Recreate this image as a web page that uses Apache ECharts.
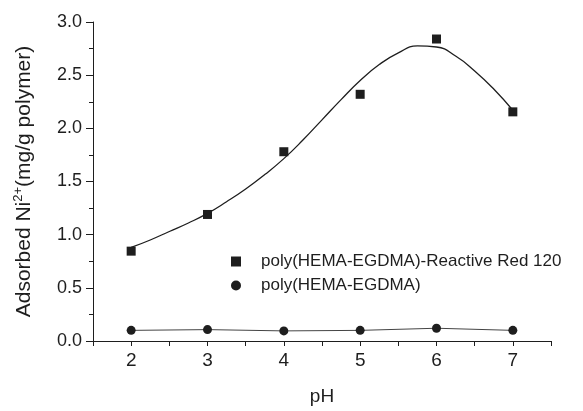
<!DOCTYPE html>
<html>
<head>
<meta charset="utf-8">
<script src="https://cdn.jsdelivr.net/npm/echarts@6/dist/echarts.min.js"></script>
<style>
  html, body { margin: 0; padding: 0; background: #fff; }
  #chart { width: 583px; height: 411px; }
</style>
</head>
<body>
<div id="chart"></div>
<script>
// measured points
const phValues = [2, 3, 4, 5, 6, 7];
const dyedValues = [0.845, 1.19, 1.78, 2.32, 2.84, 2.155];
const plainValues = [0.10, 0.107, 0.095, 0.10, 0.12, 0.10];

// fitted curve
const fitPh = [2, 2.25, 2.5, 2.75, 3, 3.25, 3.5, 3.75, 4, 4.25, 4.5, 4.75, 5, 5.25, 5.5, 5.75, 6, 6.25, 6.5, 6.75, 7];
const fitValues = [0.88, 0.95, 1.03, 1.11, 1.20, 1.31, 1.43, 1.565, 1.715, 1.89, 2.08, 2.27, 2.45, 2.60, 2.71, 2.775, 2.765, 2.68, 2.54, 2.37, 2.17];

const yTicks = [0, 0.5, 1, 1.5, 2, 2.5, 3];
const xTicks = [2, 3, 4, 5, 6, 7];

const dyedName = 'poly(HEMA-EGDMA)-Reactive Red 120';
const plainName = 'poly(HEMA-EGDMA)';

const ink = '#1e1e1e';
const font = '"Liberation Sans", Arial, sans-serif';

const chart = echarts.init(document.getElementById('chart'));

chart.setOption({
  animation: false,
  textStyle: { fontFamily: font, color: ink },
  grid: { left: 93, right: 32, top: 22, bottom: 67 },
  legend: {
    orient: 'vertical',
    left: 226,
    top: 248,
    itemWidth: 10,
    itemHeight: 10,
    itemGap: 7,
    textStyle: { fontFamily: font, fontSize: 17, color: ink, padding: [0, 0, 0, 15] },
    data: [
      { name: dyedName, icon: 'rect' },
      { name: plainName, icon: 'circle' }
    ]
  },
  xAxis: {
    type: 'value',
    min: 1.5,
    max: 7.5,
    interval: 0.5,
    name: 'pH',
    nameLocation: 'middle',
    nameGap: 46,
    nameTextStyle: { fontSize: 19, color: ink },
    axisLine: { onZero: false, lineStyle: { color: ink, width: 1 } },
    axisTick: { length: 5, lineStyle: { color: ink } },
    splitLine: { show: false },
    axisLabel: {
      fontSize: 19,
      color: ink,
      margin: 10,
      formatter: v => (xTicks.includes(v) ? String(v) : '')
    }
  },
  yAxis: {
    type: 'value',
    min: 0,
    max: 3,
    interval: 0.5,
    name: '{a|Adsorbed Ni}{s|2+}{a|(mg/g polymer)}',
    nameLocation: 'middle',
    nameGap: 57,
    nameTextStyle: {
      rich: {
        a: { fontSize: 21, color: ink, fontFamily: font },
        s: { fontSize: 13, color: ink, fontFamily: font, verticalAlign: 'top', padding: [0, 0, 11, 0] }
      }
    },
    axisLine: { show: true, lineStyle: { color: ink, width: 1 } },
    axisTick: { length: 7, lineStyle: { color: ink } },
    minorTick: { show: true, splitNumber: 2, length: 4, lineStyle: { color: ink } },
    splitLine: { show: false },
    axisLabel: {
      fontSize: 18,
      color: ink,
      margin: 11,
      formatter: v => (yTicks.includes(v) ? v.toFixed(1) : '')
    }
  },
  series: [
    {
      name: 'fit',
      type: 'line',
      smooth: 0.5,
      showSymbol: false,
      silent: true,
      lineStyle: { color: ink, width: 1.3 },
      data: fitPh.map((x, i) => [x, fitValues[i]])
    },
    {
      name: dyedName,
      type: 'scatter',
      symbol: 'rect',
      symbolSize: 9,
      itemStyle: { color: ink, opacity: 1 },
      data: phValues.map((x, i) => [x, dyedValues[i]])
    },
    {
      name: plainName,
      type: 'line',
      symbol: 'circle',
      symbolSize: 9,
      showAllSymbol: true,
      itemStyle: { color: ink, opacity: 1 },
      lineStyle: { color: '#444', width: 1 },
      data: phValues.map((x, i) => [x, plainValues[i]])
    }
  ]
});
</script>
</body>
</html>
